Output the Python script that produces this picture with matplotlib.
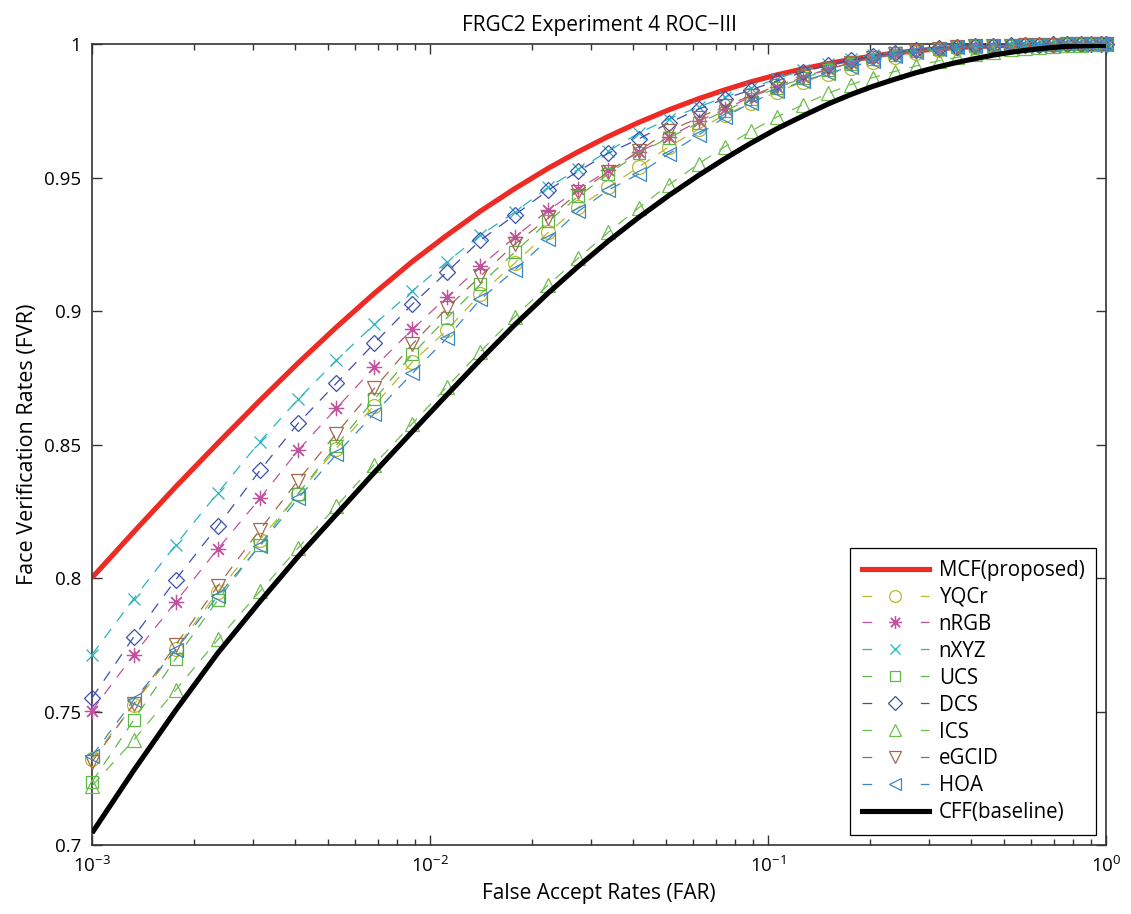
import matplotlib
matplotlib.use("Agg")
import matplotlib.pyplot as plt
from matplotlib.lines import Line2D

plt.rcParams["font.family"] = ["Open Sans", "DejaVu Sans"]
plt.rcParams["lines.scale_dashes"] = False
plt.rcParams["axes.unicode_minus"] = True

# ---- data ---------------------------------------------------------------
far = [0.001, 0.00133, 0.00177, 0.00236, 0.00314, 0.00407, 0.00528, 0.00684,
       0.00886, 0.0112, 0.0141, 0.0178, 0.0224, 0.0275, 0.0337, 0.0414,
       0.0508, 0.0623, 0.0744, 0.0888, 0.106, 0.127, 0.151, 0.176, 0.204,
       0.237, 0.275, 0.320, 0.362, 0.409, 0.462, 0.523, 0.575, 0.633, 0.696,
       0.766, 0.843, 0.902, 0.966, 1.0]

mcf = [0.8001, 0.8173, 0.8342, 0.8506, 0.8665, 0.8805, 0.8939, 0.9066, 0.9185,
       0.9283, 0.9374, 0.9458, 0.9535, 0.9597, 0.9654, 0.9706, 0.9753, 0.9795,
       0.9828, 0.9858, 0.9884, 0.9907, 0.9927, 0.9942, 0.9955, 0.9966, 0.9975,
       0.9982, 0.9987, 0.9990, 0.9993, 0.9995, 0.9996, 0.9997, 0.9998, 0.9998,
       0.9999, 0.9999, 0.9999, 0.9999]

yqcr = [0.7323, 0.7525, 0.7735, 0.7949, 0.8144, 0.8313, 0.8485, 0.8646, 0.8808,
        0.8928, 0.9063, 0.9179, 0.9295, 0.9389, 0.9464, 0.9539, 0.9614, 0.9681,
        0.9734, 0.9779, 0.982, 0.9858, 0.9888, 0.991, 0.9933, 0.9951, 0.9966,
        0.9978, 0.9985, 0.9989, 0.9993, 0.9994, 0.9996, 0.9998, 0.9998, 1.0,
        1.0, 1.0, 1.0, 1.0]

nrgb = [0.7503, 0.7713, 0.7911, 0.811, 0.8298, 0.8478, 0.8635, 0.8789, 0.8931,
        0.9051, 0.9168, 0.9276, 0.9378, 0.9456, 0.9528, 0.9595, 0.9651, 0.9711,
        0.9756, 0.9801, 0.9839, 0.9876, 0.9906, 0.9929, 0.9948, 0.9963, 0.9974,
        0.9981, 0.9987, 0.9991, 0.9993, 0.9994, 0.9996, 0.9998, 0.9998, 1.0,
        1.0, 1.0, 1.0, 1.0]

nxyz = [0.7713, 0.7923, 0.8125, 0.832, 0.8511, 0.8669, 0.8815, 0.895, 0.9074,
        0.9183, 0.9284, 0.937, 0.9464, 0.9531, 0.9599, 0.9666, 0.9719, 0.9764,
        0.9801, 0.9835, 0.9869, 0.9903, 0.9925, 0.9944, 0.9959, 0.997, 0.9978,
        0.9985, 0.9989, 0.9993, 0.9994, 0.9996, 0.9998, 0.9998, 1.0, 1.0,
        1.0, 1.0, 1.0, 1.0]

ucs = [0.7236, 0.7469, 0.7698, 0.7919, 0.8125, 0.8316, 0.8496, 0.8669, 0.8838,
       0.8973, 0.91, 0.922, 0.9336, 0.943, 0.9513, 0.9591, 0.9648, 0.9704,
       0.9749, 0.9794, 0.9835, 0.9873, 0.9903, 0.9925, 0.9944, 0.9959, 0.9972,
       0.9981, 0.9987, 0.9991, 0.9993, 0.9994, 0.9996, 0.9998, 0.9998, 1.0,
       1.0, 1.0, 1.0, 1.0]

dcs = [0.7551, 0.778, 0.7994, 0.8196, 0.8403, 0.8579, 0.8729, 0.8879, 0.9025,
       0.9145, 0.9265, 0.9359, 0.9453, 0.9524, 0.9591, 0.9644, 0.9704, 0.9756,
       0.9794, 0.9828, 0.9861, 0.9895, 0.9921, 0.994, 0.9955, 0.9966, 0.9978,
       0.9985, 0.9989, 0.9993, 0.9994, 0.9996, 0.9998, 0.9998, 1.0, 1.0,
       1.0, 1.0, 1.0, 1.0]

ics = [0.7221, 0.7394, 0.7581, 0.7770, 0.7950, 0.8112, 0.8268, 0.8425, 0.8578,
       0.8715, 0.8848, 0.8978, 0.9098, 0.9199, 0.9295, 0.9386, 0.9472, 0.9551,
       0.9615, 0.9673, 0.9726, 0.9773, 0.9816, 0.9848, 0.9874, 0.9897, 0.9918,
       0.9937, 0.9950, 0.9961, 0.9971, 0.9980, 0.9985, 0.9990, 0.9994, 0.9997,
       0.9998, 0.9999, 1.0, 1.0]

egcid = [0.7311, 0.7529, 0.775, 0.7971, 0.8181, 0.8365, 0.8541, 0.871, 0.8875,
         0.901, 0.913, 0.925, 0.9348, 0.9445, 0.952, 0.9599, 0.9674, 0.9723,
         0.9768, 0.9805, 0.9843, 0.9876, 0.9906, 0.9929, 0.9948, 0.9963, 0.9974,
         0.9981, 0.9987, 0.9991, 0.9993, 0.9994, 0.9996, 0.9998, 0.9998, 1.0,
         1.0, 1.0, 1.0, 1.0]

hoa = [0.7334, 0.7544, 0.7731, 0.7934, 0.8121, 0.8298, 0.8463, 0.8616, 0.8766,
       0.8898, 0.9044, 0.9153, 0.9269, 0.9374, 0.9453, 0.9513, 0.9588, 0.9659,
       0.9726, 0.9779, 0.9824, 0.9861, 0.9891, 0.9914, 0.9936, 0.9955, 0.997,
       0.9981, 0.9987, 0.9991, 0.9993, 0.9994, 0.9996, 0.9998, 0.9998, 1.0,
       1.0, 1.0, 1.0, 1.0]

cff = [0.7045, 0.7280, 0.7505, 0.7720, 0.7912, 0.8080, 0.8238, 0.8395, 0.8548,
       0.8685, 0.8818, 0.8948, 0.9068, 0.9168, 0.9262, 0.9350, 0.9432, 0.9508,
       0.9570, 0.9628, 0.9682, 0.9731, 0.9776, 0.9811, 0.9841, 0.9868, 0.9893,
       0.9915, 0.9931, 0.9945, 0.9958, 0.9969, 0.9976, 0.9982, 0.9987, 0.9991,
       0.9993, 0.9994, 0.9995, 0.9995]

y_ticks = [0.7, 0.75, 0.8, 0.85, 0.9, 0.95, 1.0]
y_tick_labels = ["0.7", "0.75", "0.8", "0.85", "0.9", "0.95", "1"]

# name, values, colour, marker, marker size
dashed = [
    ("YQCr", yqcr, "#b9b92f", "o", 10),
    ("nRGB", nrgb, "#c2529f", (8, 2, 0), 11),
    ("nXYZ", nxyz, "#25b4bf", "x", 8.5),
    ("UCS", ucs, "#5cb847", "s", 9),
    ("DCS", dcs, "#3b4fae", "D", 8),
    ("ICS", ics, "#6dbd4f", "^", 10.5),
    ("eGCID", egcid, "#a06a4e", "v", 10.5),
    ("HOA", hoa, "#3a88c5", "<", 10.5),
]

RED = "#ee2a24"
DASH = (0, (8, 7))

fig = plt.figure(figsize=(11.31, 9.14), dpi=100)
ax = fig.add_axes([92 / 1131, 69 / 914, 1014 / 1131, 801 / 914])

ax.plot(far, mcf, color=RED, lw=3.7, solid_capstyle="butt", zorder=2)
for name, vals, col, mk, ms in dashed:
    ax.plot(far, vals, color=col, lw=0.9, linestyle=DASH, marker=mk, ms=ms,
            mfc="none", mec=col, mew=0.9, clip_on=False, zorder=3)
ax.plot(far, cff, color="black", lw=3.7, solid_capstyle="butt", zorder=4)

ax.set_xscale("log")
ax.set_xlim(1e-3, 1)
ax.set_ylim(0.7, 1.0)
ax.set_yticks(y_ticks)
ax.set_yticklabels(y_tick_labels)

ax.tick_params(which="both", direction="in", top=True, right=True,
               labelsize=13.5, colors="#333333", labelcolor="black")
ax.tick_params(which="major", length=7, width=1, pad=8)
ax.tick_params(which="minor", length=4, width=1)
for sp in ax.spines.values():
    sp.set_color("#333333")
    sp.set_linewidth(1.2)

ax.set_title("FRGC2 Experiment 4 ROC\u2212III", fontsize=15, pad=9)
ax.set_xlabel("False Accept Rates (FAR)", fontsize=15, labelpad=5)
ax.set_ylabel("Face Verification Rates (FVR)", fontsize=15.5, labelpad=4)

# legend proxies (MATLAB style: short dash, marker, short dash)
handles = [Line2D([], [], color=RED, lw=3.7)]
labels = ["MCF(proposed)"]
for name, vals, col, mk, ms in dashed:
    handles.append(Line2D([], [], color=col, lw=0.9, linestyle=(0, (7, 35)),
                          marker=mk, ms=ms * 0.85, mfc="none", mec=col, mew=0.9))
    labels.append(name)
handles.append(Line2D([], [], color="black", lw=3.7))
labels.append("CFF(baseline)")

leg = ax.legend(handles, labels, loc="lower right", fontsize=14.8,
                frameon=True, fancybox=False, framealpha=1, edgecolor="black",
                handlelength=3.3, handletextpad=0.45, labelspacing=0.29,
                borderpad=0.55, borderaxespad=0.5)
leg.get_frame().set_linewidth(0.9)
leg.set_zorder(10)

fig.savefig("out.png", dpi=100, facecolor="white")
